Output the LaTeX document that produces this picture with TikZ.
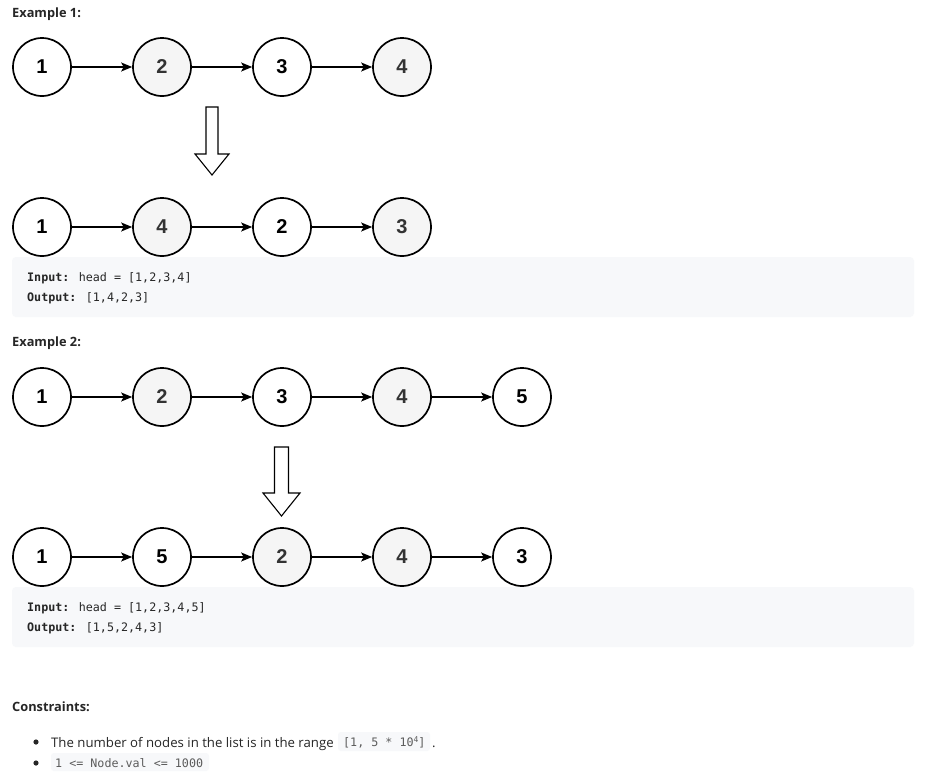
\documentclass[tikz,border=0pt]{standalone}
\usepackage{fontspec}
\setmainfont{Open Sans}
\newfontfamily\numfont{Liberation Sans}
\newfontfamily\codefont{DejaVu Sans Mono}
\usetikzlibrary{arrows.meta}
\definecolor{codebg}{HTML}{F7F8FA}
\definecolor{txt}{HTML}{262626}
\definecolor{gfill}{HTML}{F5F5F5}
\definecolor{icode}{HTML}{5C5C5C}
\tikzset{
  lnode/.style={circle,draw=black,line width=1.7pt,minimum size=58pt,inner sep=0pt,fill=white,
    font=\numfont\bfseries\fontsize{20}{24}\selectfont},
  gnode/.style={lnode,fill=gfill,text={rgb,255:red,51;green,51;blue,51}},
  link/.style={line width=1.3pt,-{Stealth[length=11pt,width=9pt,inset=2.5pt]}},
  bigarrow/.style={draw=black,line width=1.1pt,fill=white,line join=miter},
  title/.style={anchor=base west,inner sep=0pt,text=txt,font=\bfseries\fontsize{12.8}{15}\selectfont},
  codeline/.style={anchor=base west,inner sep=0pt,text=txt,font=\codefont\fontsize{11.7}{14}\selectfont},
  codebox/.style={fill=codebg,draw=none,rounded corners=4pt},
  body/.style={anchor=base west,inner sep=0pt,text=txt,font=\fontsize{13.2}{16}\selectfont},
  inl/.style={anchor=base west,inner sep=0pt,text=icode,font=\codefont\fontsize{11.7}{14}\selectfont},
}
\begin{document}
\begin{tikzpicture}[x=1pt,y=-1pt]
\useasboundingbox[fill=white] (0,0) rectangle (927,779);
% Example 1
\node[title] (t1) at (12,17) {Example 1:};
\node[lnode] (a1) at (42,67) {1};
\node[gnode] (a2) at (162,67) {2};
\node[lnode] (a3) at (282,67) {3};
\node[gnode] (a4) at (402,67) {4};
\draw[link] (a1) -- (a2);
\draw[link] (a2) -- (a3);
\draw[link] (a3) -- (a4);
\draw[bigarrow] (206,107) -- (218,107) -- (218,154) -- (229,154) -- (212,175) -- (195,154) -- (206,154) -- cycle;
\node[lnode] (b1) at (42,227) {1};
\node[gnode] (b2) at (162,227) {4};
\node[lnode] (b3) at (282,227) {2};
\node[gnode] (b4) at (402,227) {3};
\draw[link] (b1) -- (b2);
\draw[link] (b2) -- (b3);
\draw[link] (b3) -- (b4);
\fill[codebox] (12,257) rectangle (914,317);
\node[codeline] (i1) at (27,281) {\textbf{Input:} head = [1,2,3,4]};
\node[codeline] (o1) at (27,301) {\textbf{Output:} [1,4,2,3]};
% Example 2
\node[title] (t2) at (12,346) {Example 2:};
\node[lnode] (c1) at (42,397) {1};
\node[gnode] (c2) at (162,397) {2};
\node[lnode] (c3) at (282,397) {3};
\node[gnode] (c4) at (402,397) {4};
\node[lnode] (c5) at (522,397) {5};
\draw[link] (c1) -- (c2);
\draw[link] (c2) -- (c3);
\draw[link] (c3) -- (c4);
\draw[link] (c4) -- (c5);
\draw[bigarrow] (274.5,447) -- (288.5,447) -- (288.5,493) -- (300,493) -- (281.5,516) -- (263,493) -- (274.5,493) -- cycle;
\node[lnode] (d1) at (42,557) {1};
\node[lnode] (d2) at (162,557) {5};
\node[gnode] (d3) at (282,557) {2};
\node[gnode] (d4) at (402,557) {4};
\node[lnode] (d5) at (522,557) {3};
\draw[link] (d1) -- (d2);
\draw[link] (d2) -- (d3);
\draw[link] (d3) -- (d4);
\draw[link] (d4) -- (d5);
\fill[codebox] (12,587) rectangle (914,647);
\node[codeline] (i2) at (27,611) {\textbf{Input:} head = [1,2,3,4,5]};
\node[codeline] (o2) at (27,631) {\textbf{Output:} [1,5,2,4,3]};
% Constraints
\node[title] (t3) at (12,711) {Constraints:};
\fill[txt] (36,742) circle (2.6pt);
\fill[txt] (36,763) circle (2.6pt);
\node[body] (l1) at (51,747) {The number of nodes in the list is in the range};
\fill[codebox,rounded corners=3pt] (338,732) rectangle (430,751);
\node[inl] (k1) at (343,746) {[1, 5 * 10\raisebox{4pt}{\fontsize{8}{9}\selectfont 4}]};
\node[body] (dot) at (432,747) {.};
\fill[codebox,rounded corners=3pt] (51,753) rectangle (209,771);
\node[inl] (k2) at (55,767) {1 <= Node.val <= 1000};
\end{tikzpicture}
\end{document}
